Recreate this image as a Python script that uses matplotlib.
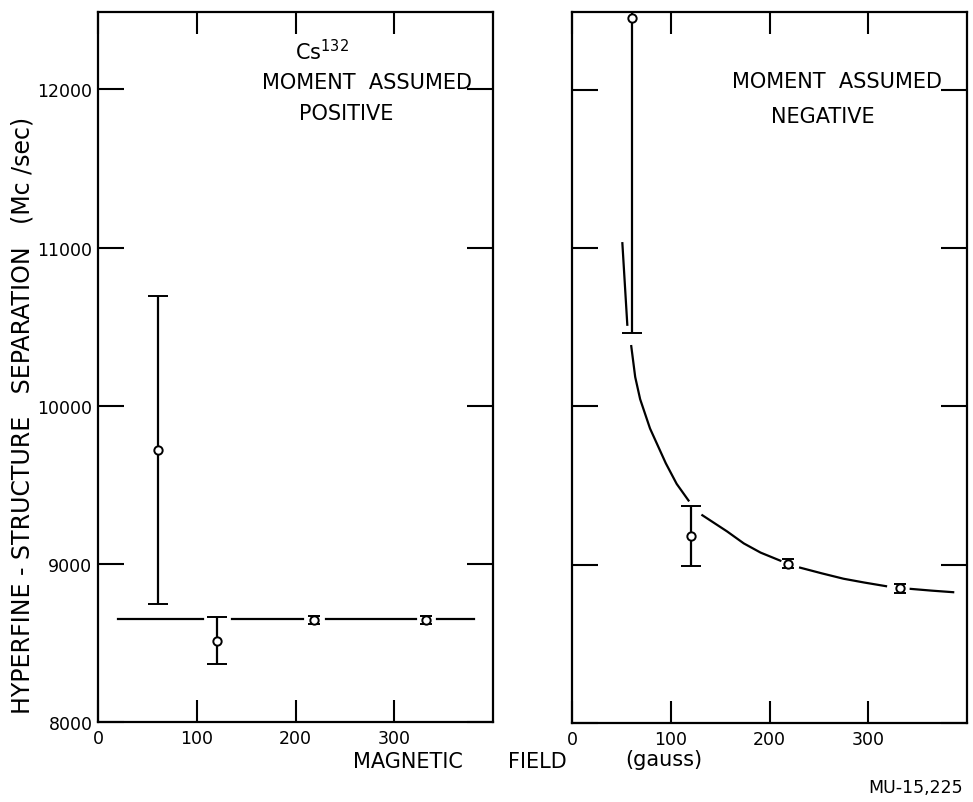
import matplotlib
matplotlib.use("Agg")
import matplotlib.pyplot as plt

# measured points (field in gauss, hfs separation in Mc/sec)
field = [61, 121, 219, 332]

pos_nu = [9720, 8515, 8645, 8645]
pos_err = [975, 150, 25, 25]

neg_nu = [12450, 9180, 9005, 8850]
neg_err = [1985, 190, 28, 28]

# hand-drawn fitted lines, broken where they pass the error bars
pos_line_value = 8650
pos_line_segments = [(20, 106), (136, 208), (231, 322), (343, 381)]

neg_curve_segments = [
    ([51, 56], [11030, 10515]),
    ([60, 64, 69, 79, 95, 106, 118], [10380, 10185, 10045, 9860, 9640, 9510, 9405]),
    ([132, 157, 174, 191, 211], [9312, 9210, 9134, 9076, 9025]),
    ([231, 253, 275, 296, 318], [8981, 8945, 8911, 8887, 8864]),
    ([343, 364, 386], [8847, 8836, 8826]),
]

x_ticks = [0, 100, 200, 300]
y_ticks = [8000, 9000, 10000, 11000, 12000]

W, H = 973, 803
fig = plt.figure(figsize=(W / 100, H / 100), dpi=100)


def box(x0, y0, x1, y1):
    return [x0 / W, 1 - y1 / H, (x1 - x0) / W, (y1 - y0) / H]


def ftext(x, y, s, **kw):
    fig.text(x / W, 1 - y / H, s, ha="center", va="center", **kw)


ax1 = fig.add_axes(box(98, 13, 493, 723))
ax2 = fig.add_axes(box(572, 13, 967, 724))

caps = [7, 7, 4.5, 4.5]
for ax, nu, err in [(ax1, pos_nu, pos_err), (ax2, neg_nu, neg_err)]:
    for x, y, e, c in zip(field, nu, err, caps):
        ax.errorbar(x, y, yerr=e, fmt="o", color="black", mfc="white",
                    ms=6, mew=1.4, elinewidth=1.6, capsize=c, capthick=1.8,
                    zorder=3)
    ax.set_xlim(0, 400)
    ax.set_ylim(8000, 12490)
    ax.set_xticks(x_ticks)
    ax.set_yticks(y_ticks)
    ax.tick_params(axis="y", direction="in", length=19, width=1.5,
                   left=True, right=True, labelsize=12.5, pad=4)
    ax.tick_params(axis="x", direction="in", length=16, width=1.5,
                   top=True, bottom=True, labelsize=12.5, pad=5)
    for sp in ax.spines.values():
        sp.set_linewidth(1.6)

for x0, x1 in pos_line_segments:
    ax1.plot([x0, x1], [pos_line_value, pos_line_value], color="black", lw=1.6)

for xs, ys in neg_curve_segments:
    ax2.plot(xs, ys, color="black", lw=1.6)

ax2.set_yticklabels([])

ftext(322, 52, "Cs$^{132}$", fontsize=15)
ftext(367, 83, "MOMENT  ASSUMED", fontsize=15)
ftext(346, 114, "POSITIVE", fontsize=15)
ftext(837, 82, "MOMENT  ASSUMED", fontsize=15)
ftext(823, 117, "NEGATIVE", fontsize=15)

ftext(23, 415, "HYPERFINE - STRUCTURE   SEPARATION   (Mc /sec)",
      fontsize=17, rotation=90)
ftext(408, 762, "MAGNETIC", fontsize=15)
ftext(537, 762, "FIELD", fontsize=15)
ftext(664, 760, "(gauss)", fontsize=15)
ftext(916, 788, "MU-15,225", fontsize=12.5)

fig.savefig("out.png", dpi=100)
